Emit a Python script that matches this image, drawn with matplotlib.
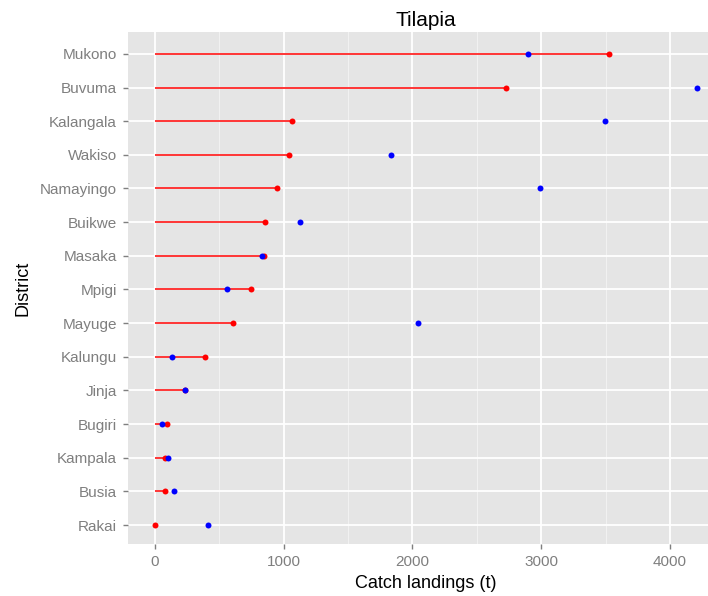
import numpy as np
import matplotlib.pyplot as plt
from matplotlib.ticker import MultipleLocator

# districts ordered top to bottom
districts = ['Mukono', 'Buvuma', 'Kalangala', 'Wakiso', 'Namayingo', 'Buikwe',
             'Masaka', 'Mpigi', 'Mayuge', 'Kalungu', 'Jinja', 'Bugiri',
             'Kampala', 'Busia', 'Rakai']
# red series (segment + point)
red_vals = [3530, 2724, 1065, 1042, 950, 854, 848, 745, 606, 392, 230, 95, 81, 81, 0]
# blue series (point only)
blue_vals = [2900, 4211, 3492, 1833, 2993, 1123, 828, 557, 2046, 130, 234, 58, 104, 144, 413]

plt.rcParams['font.family'] = ['Liberation Sans', 'DejaVu Sans']

fig = plt.figure(figsize=(7.08, 5.96), dpi=100)
# panel runs a little past the right edge of the picture, as in the reference
ax = fig.add_axes([128 / 708, 0.0868, 596 / 708, 0.859])
ax.set_facecolor('#E5E5E5')

ypos = np.arange(len(districts))[::-1]

ax.hlines(ypos, 0, red_vals, color='red', lw=1.1, zorder=3)
ax.plot(red_vals, ypos, 'o', color='red', ms=4.3, mew=0, zorder=4)
ax.plot(blue_vals, ypos, 'o', color='blue', ms=4.3, mew=0, zorder=5)

ax.set_xlim(-210, 4420)
ax.set_ylim(-0.57, len(districts) - 0.36)
ax.set_yticks(ypos)
ax.set_yticklabels(districts)
ax.xaxis.set_major_locator(MultipleLocator(1000))
ax.xaxis.set_minor_locator(MultipleLocator(500))

ax.grid(which='major', color='white', lw=1.3, zorder=1)
ax.grid(which='minor', axis='x', color='#F2F2F2', lw=0.7, zorder=1)
ax.set_axisbelow(True)
for s in ax.spines.values():
    s.set_visible(False)

ax.tick_params(which='major', colors='#7F7F7F', labelcolor='#7F7F7F',
               labelsize=11, length=3.6, width=1)
ax.tick_params(axis='x', pad=4.4)
ax.tick_params(axis='y', pad=4.5)
ax.tick_params(which='minor', length=0)

ax.set_title('Tilapia', fontsize=15, pad=4.5)
ax.set_xlabel('Catch landings (t)', fontsize=13, labelpad=4)
ax.set_ylabel('District', fontsize=13, labelpad=6)

fig.savefig('out.png', dpi=100)
